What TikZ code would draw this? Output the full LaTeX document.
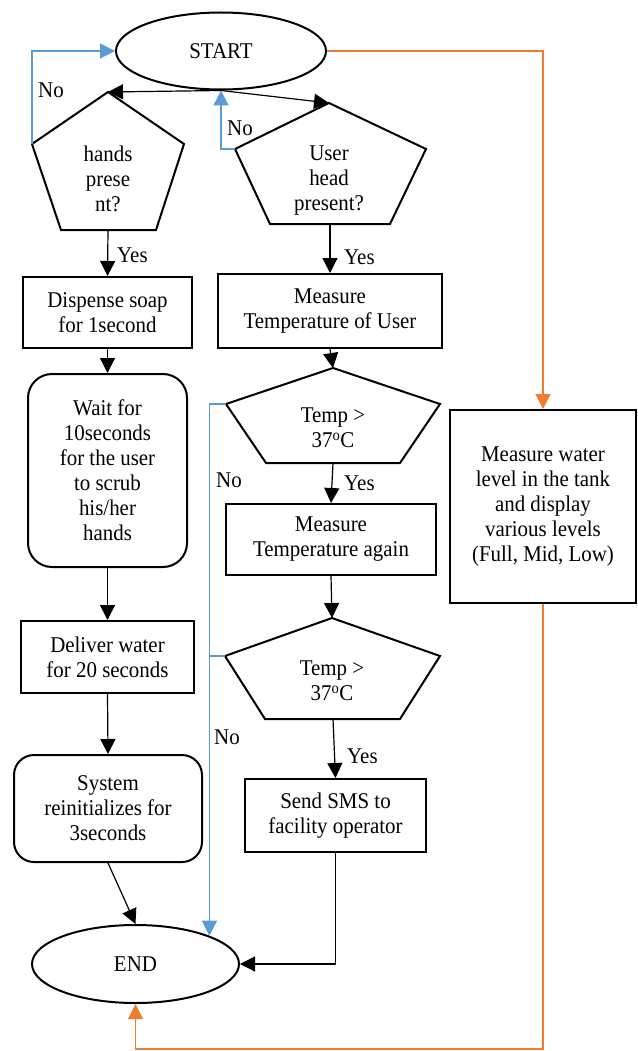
\documentclass[tikz,border=0pt]{standalone}
\usepackage{fontspec}
\setmainfont{Liberation Serif}[FakeStretch=0.93]
\usetikzlibrary{arrows.meta,shapes.geometric,calc}
\definecolor{oblue}{HTML}{5B9BD5}
\definecolor{oorange}{HTML}{ED7D31}
\begin{document}
\begin{tikzpicture}[x=1pt,y=-1pt,
  txt/.style={font=\fontsize{22.5}{25}\selectfont, align=center, inner sep=0pt},
  rbox/.style={txt, draw, line width=2pt},
  ell/.style={txt, draw, ellipse, line width=2pt},
  penta/.style={draw, line width=2pt, line join=miter},
  conn/.style={line width=1.2pt, -{Triangle[length=15pt,width=15pt]}},
  bconn/.style={conn, color=oblue},
  bline/.style={line width=1.2pt, color=oblue},
  oconn/.style={conn, color=oorange}]
\useasboundingbox (0,0) rectangle (637,1051);
\fill[white] (0,0) rectangle (637,1051);

% terminals
\node[ell, minimum width=210pt, minimum height=77pt] (start) at (221,51) {START};
\node[ell, minimum width=207pt, minimum height=78pt] (end) at (135.5,964) {END};

% pentagons
\coordinate (hT) at (108,92);
\coordinate (hL) at (32,144);
\coordinate (hR) at (184,144);
\coordinate (hBL) at (61,230);
\coordinate (hBR) at (156,230);
\coordinate (hB) at (108,230);
\draw[penta] (hT) -- (hR) -- (hBR) -- (hBL) -- (hL) -- cycle;
\node[txt] (handsq) at (108,179) {hands\\prese\\nt?};

\coordinate (uT) at (329,103);
\coordinate (uL) at (235,149);
\coordinate (uR) at (426,149);
\coordinate (uBL) at (270,224);
\coordinate (uBR) at (390,224);
\coordinate (uB) at (330,224);
\draw[penta] (uT) -- (uR) -- (uBR) -- (uBL) -- (uL) -- cycle;
\node[txt] (userq) at (329,181) {User\\head\\present?};

\coordinate (t1T) at (333,368);
\coordinate (t1L) at (226,404);
\coordinate (t1R) at (440,404);
\coordinate (t1BL) at (266,463);
\coordinate (t1BR) at (400,463);
\coordinate (t1B) at (333,463);
\draw[penta] (t1T) -- (t1R) -- (t1BR) -- (t1BL) -- (t1L) -- cycle;
\node[txt] (temp1) at (333,428) {Temp >\\37\textsuperscript{o}C};

\coordinate (t2T) at (332,618);
\coordinate (t2L) at (225,656);
\coordinate (t2R) at (440,656);
\coordinate (t2BL) at (265,719);
\coordinate (t2BR) at (400,719);
\coordinate (t2B) at (333,719);
\draw[penta] (t2T) -- (t2R) -- (t2BR) -- (t2BL) -- (t2L) -- cycle;
\node[txt] (temp2) at (332,681) {Temp >\\37\textsuperscript{o}C};

% boxes
\node[rbox, minimum width=169pt, minimum height=71pt] (disp) at (107.5,312.5) {Dispense soap\\for 1second};
\node[rbox, minimum width=224pt, minimum height=74pt] (mt) at (330,311) {Measure\\Temperature of User};
\node[rbox, rounded corners=24pt, minimum width=159pt, minimum height=193pt] (wait) at (107.5,470.5) {Wait for\\10seconds\\for the user\\to scrub\\his/her\\hands};
\node[rbox, minimum width=210pt, minimum height=71pt] (ma) at (331,539.5) {Measure\\Temperature again};
\node[rbox, minimum width=186pt, minimum height=193pt] (water) at (543,506.5) {Measure water\\level in the tank\\and display\\various levels\\(Full, Mid, Low)};
\node[rbox, minimum width=173pt, minimum height=72pt] (deliver) at (107.5,657) {Deliver water\\for 20 seconds};
\node[rbox, rounded corners=20pt, minimum width=188pt, minimum height=107pt] (sys) at (108,808.5) {System\\reinitializes for\\3seconds};
\node[rbox, minimum width=181pt, minimum height=73pt] (sms) at (335.5,815.5) {Send SMS to\\facility operator};

% connectors
\draw[conn] (start.south) -- (hT);
\draw[conn] (start.south) -- (uT);
\draw[bconn] (hL) |- (start.west);
\draw[bconn] (uL) -| (start.south);
\draw[oconn] (start.east) -| (water.north);
\draw[conn] (hB) -- (disp.north);
\draw[conn] (uB) -- (mt.north);
\draw[conn] (disp.south) -- (wait.north);
\draw[conn] (mt.south) -- (t1T);
\draw[conn] (t1B) -- (ma.north);
\draw[conn] (ma.south) -- (t2T);
\draw[conn] (t2B) -- (sms.north);
\draw[conn] (wait.south) -- (deliver.north);
\draw[conn] (deliver.south) -- (sys.north);
\draw[conn] (sys.south) -- (end.north);
\draw[conn] (sms.south) |- (end.east);
\draw[bconn] (t1L) -| (end.north east);
\draw[bline] (t2L) -- (t2L -| end.north east);
\coordinate (oc) at (543,1049);
\draw[oconn] (water.south) -- (oc) -| (end.south);

% labels
\node[txt] (no1) at (51,90) {No};
\node[txt] (no2) at (240,128) {No};
\node[txt] (no3) at (229,480) {No};
\node[txt] (no4) at (227,737) {No};
\node[txt, anchor=west] (yes1) at (117,255) {Yes};
\node[txt, anchor=west] (yes2) at (344,257) {Yes};
\node[txt, anchor=west] (yes3) at (344,483) {Yes};
\node[txt, anchor=west] (yes4) at (347,756) {Yes};
\end{tikzpicture}
\end{document}
